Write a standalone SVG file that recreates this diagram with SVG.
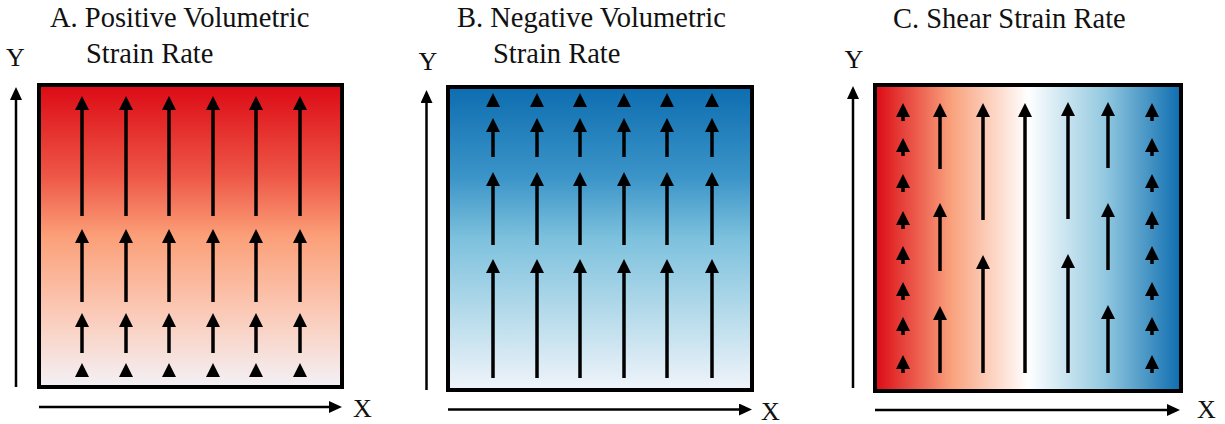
<svg xmlns="http://www.w3.org/2000/svg" width="1225" height="424" viewBox="0 0 1225 424">
<style>
.t{font-family:"Liberation Serif","Times New Roman","DejaVu Serif",serif;fill:#111}
.title{font-size:28.5px}
.ax{font-size:26px}
.box{stroke:#000;stroke-width:4}
.vec{stroke:#000;stroke-width:3.5;fill:none;marker-end:url(#head)}
.axis{stroke:#000;stroke-width:2.5;fill:none;marker-end:url(#axhead)}
.tri{fill:#000}
</style>
<defs>
<marker id="head" markerUnits="userSpaceOnUse" markerWidth="14" markerHeight="14" refX="0" refY="7" orient="auto" viewBox="0 0 14 14">
<path d="M0,0 L14,7 L0,14 Z" fill="#000"/>
</marker>
<marker id="axhead" markerUnits="userSpaceOnUse" markerWidth="13" markerHeight="12" refX="0" refY="6" orient="auto" viewBox="0 0 13 12">
<path d="M0,0 L13,6 L0,12 Z" fill="#000"/>
</marker>
<linearGradient id="gA" x1="0" y1="0" x2="0" y2="1">
<stop offset="0" stop-color="#dc0a15"/>
<stop offset="0.3" stop-color="#ee5646"/>
<stop offset="0.5" stop-color="#fb9f78"/>
<stop offset="0.75" stop-color="#fbc9b6"/>
<stop offset="1" stop-color="#f3f1f6"/>
</linearGradient>
<linearGradient id="gB" x1="0" y1="0" x2="0" y2="1">
<stop offset="0" stop-color="#0d6db0"/>
<stop offset="0.3" stop-color="#3c95c8"/>
<stop offset="0.5" stop-color="#7dc1dd"/>
<stop offset="0.75" stop-color="#b6dbeb"/>
<stop offset="1" stop-color="#f0f4fa"/>
</linearGradient>
<linearGradient id="gC" x1="0" y1="0" x2="1" y2="0">
<stop offset="0" stop-color="#dc0a15"/>
<stop offset="0.25" stop-color="#f9a17c"/>
<stop offset="0.5" stop-color="#ffffff"/>
<stop offset="0.75" stop-color="#93c9e0"/>
<stop offset="1" stop-color="#0e6db0"/>
</linearGradient>
</defs>

<g id="panelA">
<text class="t title" x="50" y="27">A. Positive Volumetric</text>
<text class="t title" x="86" y="63">Strain Rate</text>
<rect class="box" x="39" y="85" width="303" height="302" fill="url(#gA)"/>
</g>
<g id="panelB">
<text class="t title" x="457" y="27">B. Negative Volumetric</text>
<text class="t title" x="493" y="63">Strain Rate</text>
<rect class="box" x="448" y="87" width="304" height="303" fill="url(#gB)"/>
</g>
<g id="panelC">
<text class="t title" x="893" y="28">C. Shear Strain Rate</text>
<rect class="box" x="875" y="85" width="306" height="306" fill="url(#gC)"/>
</g>

<g id="axes">
<line class="axis" x1="16" y1="387" x2="16" y2="100"/>
<line class="axis" x1="39" y1="407" x2="329" y2="407"/>
<text class="t ax" x="15.5" y="66" text-anchor="middle">Y</text>
<text class="t ax" x="353" y="417">X</text>
<line class="axis" x1="426.5" y1="390" x2="426.5" y2="103"/>
<line class="axis" x1="448" y1="409.5" x2="739" y2="409.5"/>
<text class="t ax" x="428" y="70" text-anchor="middle">Y</text>
<text class="t ax" x="761" y="420">X</text>
<line class="axis" x1="853" y1="388" x2="853" y2="99"/>
<line class="axis" x1="875" y1="410" x2="1167" y2="410"/>
<text class="t ax" x="854" y="68" text-anchor="middle">Y</text>
<text class="t ax" x="1197" y="418">X</text>
</g>

<g id="connectors">
<!-- Panel A -->
<line class="vec" x1="82" y1="216" x2="82" y2="110"/>
<line class="vec" x1="126" y1="216" x2="126" y2="110"/>
<line class="vec" x1="169" y1="216" x2="169" y2="110"/>
<line class="vec" x1="213" y1="216" x2="213" y2="110"/>
<line class="vec" x1="256" y1="216" x2="256" y2="110"/>
<line class="vec" x1="300" y1="216" x2="300" y2="110"/>
<line class="vec" x1="82" y1="302" x2="82" y2="243"/>
<line class="vec" x1="126" y1="302" x2="126" y2="243"/>
<line class="vec" x1="169" y1="302" x2="169" y2="243"/>
<line class="vec" x1="213" y1="302" x2="213" y2="243"/>
<line class="vec" x1="256" y1="302" x2="256" y2="243"/>
<line class="vec" x1="300" y1="302" x2="300" y2="243"/>
<line class="vec" x1="82" y1="353" x2="82" y2="327"/>
<line class="vec" x1="126" y1="353" x2="126" y2="327"/>
<line class="vec" x1="169" y1="353" x2="169" y2="327"/>
<line class="vec" x1="213" y1="353" x2="213" y2="327"/>
<line class="vec" x1="256" y1="353" x2="256" y2="327"/>
<line class="vec" x1="300" y1="353" x2="300" y2="327"/>
<path class="tri" d="M82,363l-7,14h14zM126,363l-7,14h14zM169,363l-7,14h14zM213,363l-7,14h14zM256,363l-7,14h14zM300,363l-7,14h14z"/>
<!-- Panel B -->
<path class="tri" d="M493,93l-7,14h14zM537,93l-7,14h14zM580,93l-7,14h14zM624,93l-7,14h14zM667,93l-7,14h14zM712,93l-7,14h14z"/>
<line class="vec" x1="493" y1="157" x2="493" y2="132"/>
<line class="vec" x1="537" y1="157" x2="537" y2="132"/>
<line class="vec" x1="580" y1="157" x2="580" y2="132"/>
<line class="vec" x1="624" y1="157" x2="624" y2="132"/>
<line class="vec" x1="667" y1="157" x2="667" y2="132"/>
<line class="vec" x1="712" y1="157" x2="712" y2="132"/>
<line class="vec" x1="493" y1="245" x2="493" y2="186"/>
<line class="vec" x1="537" y1="245" x2="537" y2="186"/>
<line class="vec" x1="580" y1="245" x2="580" y2="186"/>
<line class="vec" x1="624" y1="245" x2="624" y2="186"/>
<line class="vec" x1="667" y1="245" x2="667" y2="186"/>
<line class="vec" x1="712" y1="245" x2="712" y2="186"/>
<line class="vec" x1="493" y1="378" x2="493" y2="273"/>
<line class="vec" x1="537" y1="378" x2="537" y2="273"/>
<line class="vec" x1="580" y1="378" x2="580" y2="273"/>
<line class="vec" x1="624" y1="378" x2="624" y2="273"/>
<line class="vec" x1="667" y1="378" x2="667" y2="273"/>
<line class="vec" x1="712" y1="378" x2="712" y2="273"/>
<!-- Panel C small arrows -->
<line class="vec" x1="903" y1="121" x2="903" y2="117"/>
<line class="vec" x1="903" y1="156" x2="903" y2="152"/>
<line class="vec" x1="903" y1="192" x2="903" y2="188"/>
<line class="vec" x1="903" y1="229" x2="903" y2="225"/>
<line class="vec" x1="903" y1="264" x2="903" y2="260"/>
<line class="vec" x1="903" y1="300" x2="903" y2="296"/>
<line class="vec" x1="903" y1="335" x2="903" y2="331"/>
<line class="vec" x1="903" y1="373" x2="903" y2="369"/>
<line class="vec" x1="1152" y1="121" x2="1152" y2="117"/>
<line class="vec" x1="1152" y1="156" x2="1152" y2="152"/>
<line class="vec" x1="1152" y1="192" x2="1152" y2="188"/>
<line class="vec" x1="1152" y1="229" x2="1152" y2="225"/>
<line class="vec" x1="1152" y1="264" x2="1152" y2="260"/>
<line class="vec" x1="1152" y1="300" x2="1152" y2="296"/>
<line class="vec" x1="1152" y1="335" x2="1152" y2="331"/>
<line class="vec" x1="1152" y1="373" x2="1152" y2="369"/>
<!-- Panel C long arrows -->
<line class="vec" x1="940" y1="169" x2="940" y2="117"/>
<line class="vec" x1="940" y1="271" x2="940" y2="217"/>
<line class="vec" x1="940" y1="373" x2="940" y2="320"/>
<line class="vec" x1="983" y1="220" x2="983" y2="117"/>
<line class="vec" x1="983" y1="373" x2="983" y2="269"/>
<line class="vec" x1="1025" y1="373" x2="1025" y2="117"/>
<line class="vec" x1="1068" y1="219" x2="1068" y2="116"/>
<line class="vec" x1="1068" y1="373" x2="1068" y2="268"/>
<line class="vec" x1="1108" y1="168" x2="1108" y2="116"/>
<line class="vec" x1="1108" y1="270" x2="1108" y2="217"/>
<line class="vec" x1="1108" y1="373" x2="1108" y2="319"/>
</g>
</svg>
